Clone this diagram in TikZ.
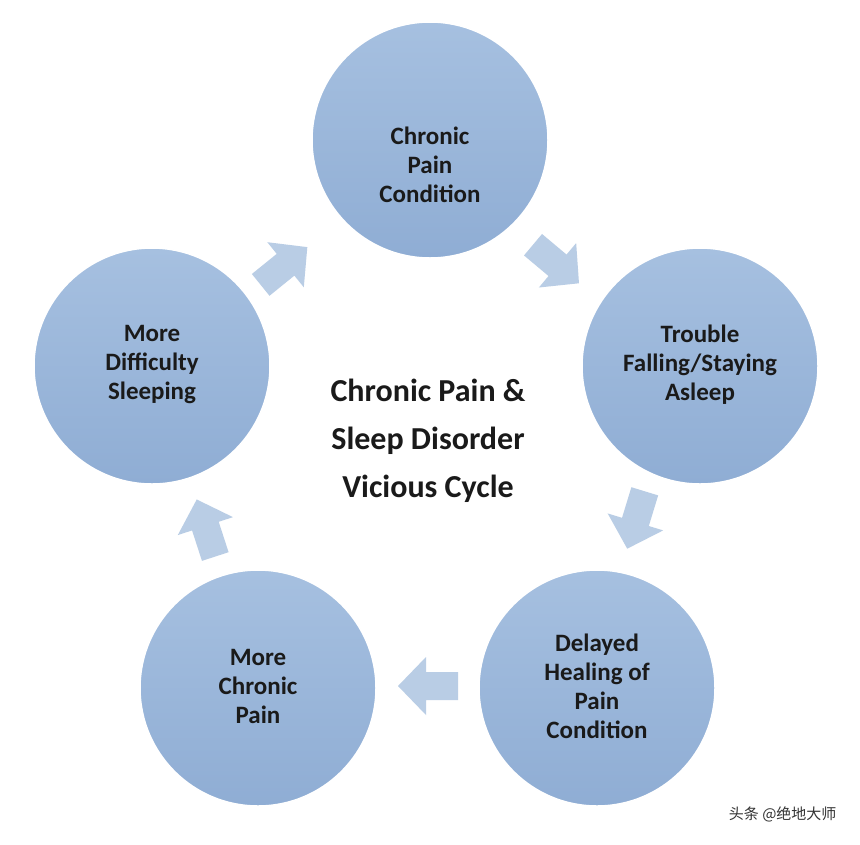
\documentclass[tikz,border=0pt]{standalone}
\usepackage{fontspec}
\setmainfont{Carlito}
\newfontfamily\cjk{Noto Sans CJK SC}
\definecolor{circ}{HTML}{8FADD4}
\definecolor{circtop}{HTML}{A6C0E0}
\definecolor{arr}{HTML}{B9CDE5}
\definecolor{txt}{HTML}{1A1A1A}
\begin{document}
\begin{tikzpicture}[x=1pt,y=-1pt,
  circ/.style={circle,minimum size=236pt,inner sep=0pt,top color=circtop,bottom color=circ,draw=white,line width=1.5pt},
  ctext/.style={font=\fontsize{25}{29}\selectfont\bfseries,text=txt,align=center},
  blockarrow/.style={fill=arr}]
\newcommand\myarrow[3]{\coordinate (#1) at (#2);
  \begin{scope}[shift={(#1)},rotate=#3]
  \fill[blockarrow] (-30,-14) -- (2,-14) -- (2,-29) -- (30,0) -- (2,29) -- (2,14) -- (-30,14) -- cycle;
  \end{scope}}
\useasboundingbox (0,0) rectangle (860,844);
\fill[white] (0,0) rectangle (860,844);
\node[circ] (a) at (430,140) {};
\node[ctext] (at) at (430,165) {Chronic\\Pain\\Condition};
\node[circ] (b) at (700,366) {};
\node[ctext] (bt) at (700,365) {Trouble\\Falling/Staying\\Asleep};
\node[circ] (c) at (597,688) {};
\node[ctext] (ct) at (597,686) {Delayed\\Healing of\\Pain\\Condition};
\node[circ] (d) at (258,688) {};
\node[ctext] (dt) at (258,686) {More\\Chronic\\Pain};
\node[circ] (e) at (152,366) {};
\node[ctext] (et) at (152,365) {More\\Difficulty\\Sleeping};
\node[font=\fontsize{32}{48}\selectfont\bfseries,text=txt,align=center] (t) at (428,441) {Chronic Pain \&\\Sleep Disorder\\Vicious Cycle};
\myarrow{ab}{556,264}{-40}
\myarrow{bc}{636,520}{-107}
\myarrow{cd}{428,686}{180}
\myarrow{de}{206,528}{108}
\myarrow{ea}{284,266}{39}
\node[anchor=east,font=\cjk\fontsize{15}{18}\selectfont,text=black!80] (w) at (840,814) {头条 @绝地大师};
\end{tikzpicture}
\end{document}
